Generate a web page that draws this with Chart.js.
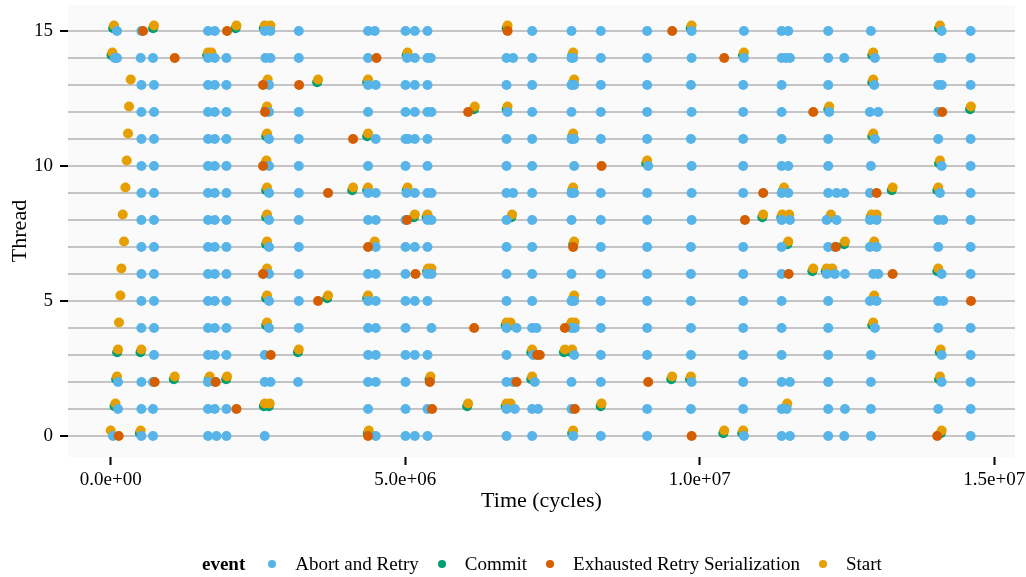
<!DOCTYPE html>
<html>
<head>
<meta charset="utf-8">
<script src="https://cdn.jsdelivr.net/npm/chart.js"></script>
<style>
  body { margin: 0; background: #fff; }
  #wrap { position: relative; width: 1026px; height: 577px; }
  #legend {
    position: absolute; left: 202px; top: 551px; height: 26px;
    display: flex; align-items: center;
    font-family: "Liberation Serif", serif; font-size: 19px; color: #000;
  }
  #legend b { margin-right: 23px; }
  #legend .dot { width: 8px; height: 8px; border-radius: 50%; margin-right: 19px; }
  #legend .lbl { margin-right: 19px; }
</style>
</head>
<body>
<div id="wrap">
  <canvas id="myChart" width="1026" height="577"></canvas>
  <div id="legend"></div>
</div>
<script>
// event times per thread (index = thread id), in millions of cycles
const abortTimes = [
  [0.039, 0.521, 0.718, 1.652, 1.795, 1.965, 2.615, 4.500, 5.005, 5.163, 5.378, 6.720, 7.155, 7.851, 8.321, 9.107, 10.750, 11.390, 11.531, 12.181, 12.453, 12.906, 14.599],
  [0.124, 0.521, 0.718, 1.652, 1.766, 1.965, 4.369, 5.005, 5.378, 6.720, 6.861, 7.155, 7.256, 7.823, 9.107, 9.850, 10.738, 11.390, 11.475, 12.181, 12.465, 12.906, 14.049, 14.599],
  [0.124, 0.521, 0.718, 1.652, 1.766, 2.615, 2.712, 3.181, 4.369, 4.500, 5.005, 6.720, 6.832, 7.200, 7.823, 8.321, 9.862, 10.738, 11.390, 11.531, 12.181, 12.906, 14.107, 14.599],
  [0.735, 1.652, 1.766, 1.965, 2.615, 4.369, 4.500, 5.005, 5.163, 5.378, 6.720, 7.172, 7.868, 8.321, 9.107, 9.850, 10.738, 11.390, 12.181, 12.906, 14.107, 14.599],
  [0.521, 0.735, 1.652, 1.766, 1.965, 2.688, 3.193, 4.369, 4.500, 5.005, 5.446, 6.720, 6.890, 7.155, 7.229, 7.823, 7.880, 8.321, 9.107, 9.850, 10.738, 11.390, 12.181, 12.974, 14.049, 14.599],
  [0.521, 0.735, 1.652, 1.766, 1.965, 2.688, 3.193, 4.369, 4.500, 5.005, 5.163, 5.378, 6.720, 7.155, 7.823, 7.868, 8.321, 9.107, 9.850, 10.738, 11.390, 12.181, 12.889, 13.003, 14.049, 14.134],
  [0.521, 0.735, 1.652, 1.766, 1.965, 2.688, 3.193, 4.369, 4.500, 5.005, 5.378, 5.446, 6.720, 7.155, 7.823, 8.321, 9.107, 9.850, 10.738, 11.390, 12.154, 12.295, 12.465, 12.945, 13.030, 14.107, 14.599],
  [0.521, 0.735, 1.652, 1.766, 1.965, 2.688, 3.193, 4.500, 5.005, 5.163, 5.378, 6.720, 7.155, 8.321, 9.107, 9.850, 10.738, 11.390, 12.181, 12.295, 12.889, 13.003, 14.049, 14.599],
  [0.521, 0.735, 1.652, 1.766, 1.965, 2.688, 3.193, 4.369, 4.500, 5.005, 5.378, 5.446, 6.720, 7.155, 7.823, 8.321, 9.107, 9.862, 11.390, 11.531, 12.154, 12.324, 12.889, 13.003, 14.049, 14.134, 14.599],
  [0.521, 0.735, 1.652, 1.766, 1.965, 2.688, 3.193, 4.369, 4.500, 5.022, 5.163, 5.378, 5.446, 6.720, 6.832, 7.155, 7.823, 7.868, 8.321, 9.107, 9.862, 10.738, 11.390, 11.502, 12.181, 12.324, 12.453, 12.889, 14.078, 14.599],
  [0.521, 0.735, 1.652, 1.766, 1.965, 2.688, 3.193, 4.369, 5.005, 5.378, 6.720, 7.155, 7.868, 9.125, 9.862, 10.738, 11.390, 11.502, 12.181, 12.906, 14.107, 14.599],
  [0.521, 0.735, 1.652, 1.766, 1.965, 2.688, 3.193, 4.500, 5.005, 5.049, 5.163, 5.378, 6.720, 7.155, 7.823, 7.868, 8.321, 9.107, 9.850, 10.738, 11.390, 12.181, 12.974, 14.049, 14.599],
  [0.521, 0.735, 1.652, 1.766, 1.965, 2.688, 3.193, 4.369, 5.005, 5.163, 5.378, 5.446, 6.737, 7.155, 7.823, 8.321, 9.107, 9.862, 10.738, 11.390, 12.198, 12.889, 13.030, 14.049],
  [0.521, 0.735, 1.652, 1.766, 1.965, 2.688, 4.369, 4.500, 5.005, 5.163, 5.378, 6.720, 7.155, 7.823, 7.868, 8.321, 9.107, 9.850, 10.738, 11.390, 12.181, 12.962, 14.049, 14.107, 14.599],
  [0.068, 0.107, 0.509, 0.718, 1.652, 1.766, 1.965, 2.627, 2.712, 3.193, 4.369, 5.032, 5.163, 5.378, 5.434, 6.720, 6.832, 7.155, 7.823, 7.851, 8.321, 9.107, 9.862, 10.750, 11.390, 11.463, 11.531, 12.181, 12.453, 12.974, 14.049, 14.107, 14.599],
  [0.107, 0.521, 1.652, 1.766, 2.615, 2.712, 3.193, 4.369, 4.483, 5.005, 5.163, 5.378, 7.155, 7.823, 8.321, 9.107, 9.862, 10.750, 11.390, 11.502, 12.181, 12.906, 14.107, 14.599]
];
const commitTimes = [
  [0.495, 4.365, 7.835, 10.400, 10.722, 14.092],
  [0.065, 2.600, 2.685, 6.052, 6.705, 8.318, 11.470],
  [0.092, 1.072, 1.666, 1.960, 5.414, 7.140, 9.517, 9.835, 14.063],
  [0.109, 0.506, 3.178, 7.140, 7.695, 7.819, 14.075],
  [2.639, 6.705, 6.773, 7.808, 12.930],
  [2.639, 3.675, 4.354, 7.853, 12.947],
  [2.639, 5.373, 11.912, 12.139, 14.034],
  [2.639, 4.468, 7.853, 11.487, 12.450, 12.947],
  [2.639, 5.148, 5.363, 6.800, 11.062, 11.385, 11.504, 12.212, 12.903, 12.988],
  [2.639, 4.100, 4.354, 5.024, 7.836, 11.415, 13.260, 14.034],
  [2.629, 9.092, 14.063],
  [2.639, 4.354, 7.836, 12.930],
  [2.639, 6.166, 6.722, 12.183, 14.589],
  [2.650, 3.505, 4.354, 7.853, 12.930],
  [0.014, 1.637, 1.695, 5.024, 7.836, 10.735, 12.930],
  [0.041, 0.720, 2.120, 2.600, 2.697, 6.722, 9.847, 14.063]
];
const exhaustedTimes = [
  [0.136, 4.369, 9.862, 14.032],
  [2.135, 5.456, 7.880],
  [0.747, 1.783, 5.417, 6.890, 9.125],
  [2.717, 7.239, 7.285],
  [6.170, 7.710],
  [3.520, 14.604],
  [2.586, 5.174, 11.510, 13.275],
  [4.369, 7.851, 12.312],
  [5.032, 10.767],
  [3.690, 11.077, 13.003],
  [2.586, 8.333],
  [4.115],
  [2.620, 6.068, 11.927, 14.117],
  [2.586, 3.198],
  [1.087, 4.512, 10.415],
  [0.549, 1.975, 6.737, 9.532]
];
const startTimes = [
  [0.000, 0.509, 4.381, 7.851, 10.415, 10.738, 14.107],
  [0.080, 2.615, 2.700, 6.068, 6.720, 6.788, 8.333, 11.485],
  [0.107, 1.087, 1.681, 1.975, 5.429, 7.155, 9.532, 9.850, 14.078],
  [0.124, 0.521, 3.193, 7.155, 7.710, 7.834, 14.090],
  [0.141, 2.654, 6.720, 6.788, 7.823, 7.880, 12.945],
  [0.165, 2.654, 3.690, 4.369, 7.868, 12.962],
  [0.182, 2.654, 5.388, 5.446, 11.927, 12.154, 12.249, 14.049],
  [0.226, 2.654, 4.483, 7.868, 11.502, 12.465, 12.962],
  [0.204, 2.654, 5.163, 5.378, 6.815, 11.077, 11.400, 11.519, 12.227, 12.918, 13.003],
  [0.250, 2.654, 4.115, 4.369, 5.039, 7.851, 11.431, 13.275, 14.049],
  [0.272, 2.644, 9.107, 14.078],
  [0.294, 2.654, 4.369, 7.851, 12.945],
  [0.311, 2.654, 6.181, 6.737, 12.198, 14.604],
  [0.340, 2.665, 3.520, 4.369, 7.868, 12.945],
  [0.029, 1.652, 1.710, 5.039, 7.851, 10.750, 12.945],
  [0.056, 0.735, 2.135, 2.615, 2.712, 6.737, 9.862, 14.078]
];
const eventNames = ['Abort and Retry', 'Commit', 'Exhausted Retry Serialization', 'Start'];
const xTickValues = [0, 5e6, 1e7, 1.5e7];
const yTicksShown = [0, 5, 10, 15];

const colors = ['#56B4E9', '#009E73', '#D55E00', '#E69F00'];

function toPoints(times, nudge) {
  const pts = [];
  times.forEach((row, thread) => {
    row.forEach(t => pts.push({ x: t * 1e6, y: thread + nudge }));
  });
  return pts;
}

function sci(v) {
  const parts = v.toExponential(1).split('e');
  const n = parseInt(parts[1], 10);
  return parts[0] + 'e' + (n < 0 ? '-' : '+') + String(Math.abs(n)).padStart(2, '0');
}

const panelBg = {
  id: 'panelBg',
  beforeDraw(chart) {
    const a = chart.chartArea;
    const c = chart.ctx;
    c.save();
    c.fillStyle = '#fafafa';
    c.fillRect(a.left, a.top, a.right - a.left, a.bottom - a.top);
    c.restore();
  }
};

const serif = 'Liberation Serif, serif';

const datasets = [
  { label: eventNames[0], data: toPoints(abortTimes, 0), order: 1 },
  { label: eventNames[1], data: toPoints(commitTimes, 0.1), order: 3 },
  { label: eventNames[2], data: toPoints(exhaustedTimes, 0), order: 0 },
  { label: eventNames[3], data: toPoints(startTimes, 0.2), order: 2 }
].map((d, i) => Object.assign(d, {
  backgroundColor: colors[i],
  borderWidth: 0,
  pointRadius: 5,
  pointHoverRadius: 5
}));

const ctx = document.getElementById('myChart');
new Chart(ctx, {
  type: 'scatter',
  data: { datasets: datasets },
  plugins: [panelBg],
  options: {
    responsive: false,
    animation: false,
    layout: { padding: { top: 4, right: 11, left: 0, bottom: 60 } },
    plugins: {
      legend: { display: false },
      tooltip: { enabled: false }
    },
    scales: {
      x: {
        type: 'linear',
        min: -725000,
        max: 15352000,
        afterBuildTicks: s => { s.ticks = xTickValues.map(v => ({ value: v })); },
        afterFit: s => { s.height = 60; s.paddingLeft = 0; s.paddingRight = 0; },
        border: { display: false },
        grid: { drawOnChartArea: false, tickLength: 8, tickColor: '#000', tickWidth: 2 },
        ticks: {
          maxRotation: 0,
          padding: 4,
          color: '#000',
          font: { family: serif, size: 19 },
          callback: v => sci(v)
        },
        title: {
          display: true,
          text: 'Time (cycles)',
          color: '#000',
          font: { family: serif, size: 22 },
          padding: { top: 0, bottom: 3 }
        }
      },
      y: {
        type: 'linear',
        min: -0.78,
        max: 15.96,
        afterFit: s => { s.width = 68; s.paddingTop = 0; s.paddingBottom = 0; },
        border: { display: false },
        grid: {
          color: '#c4c4c4',
          lineWidth: 2,
          tickLength: 8,
          tickWidth: 2,
          tickColor: c => (yTicksShown.includes(c.tick.value) ? '#000' : 'rgba(0,0,0,0)')
        },
        ticks: {
          stepSize: 1,
          includeBounds: false,
          padding: 7,
          color: '#000',
          font: { family: serif, size: 19 },
          callback: v => (yTicksShown.includes(v) ? v : '')
        },
        title: {
          display: true,
          text: 'Thread',
          color: '#000',
          font: { family: serif, size: 22 },
          padding: { top: 7, bottom: 0 }
        }
      }
    }
  }
});

// legend row: title plus one key per event
const legend = document.getElementById('legend');
legend.innerHTML = '<b>event</b>' + datasets.map(d =>
  '<span class="dot" style="background:' + d.backgroundColor + '"></span><span class="lbl">' + d.label + '</span>'
).join('');
</script>
</body>
</html>
